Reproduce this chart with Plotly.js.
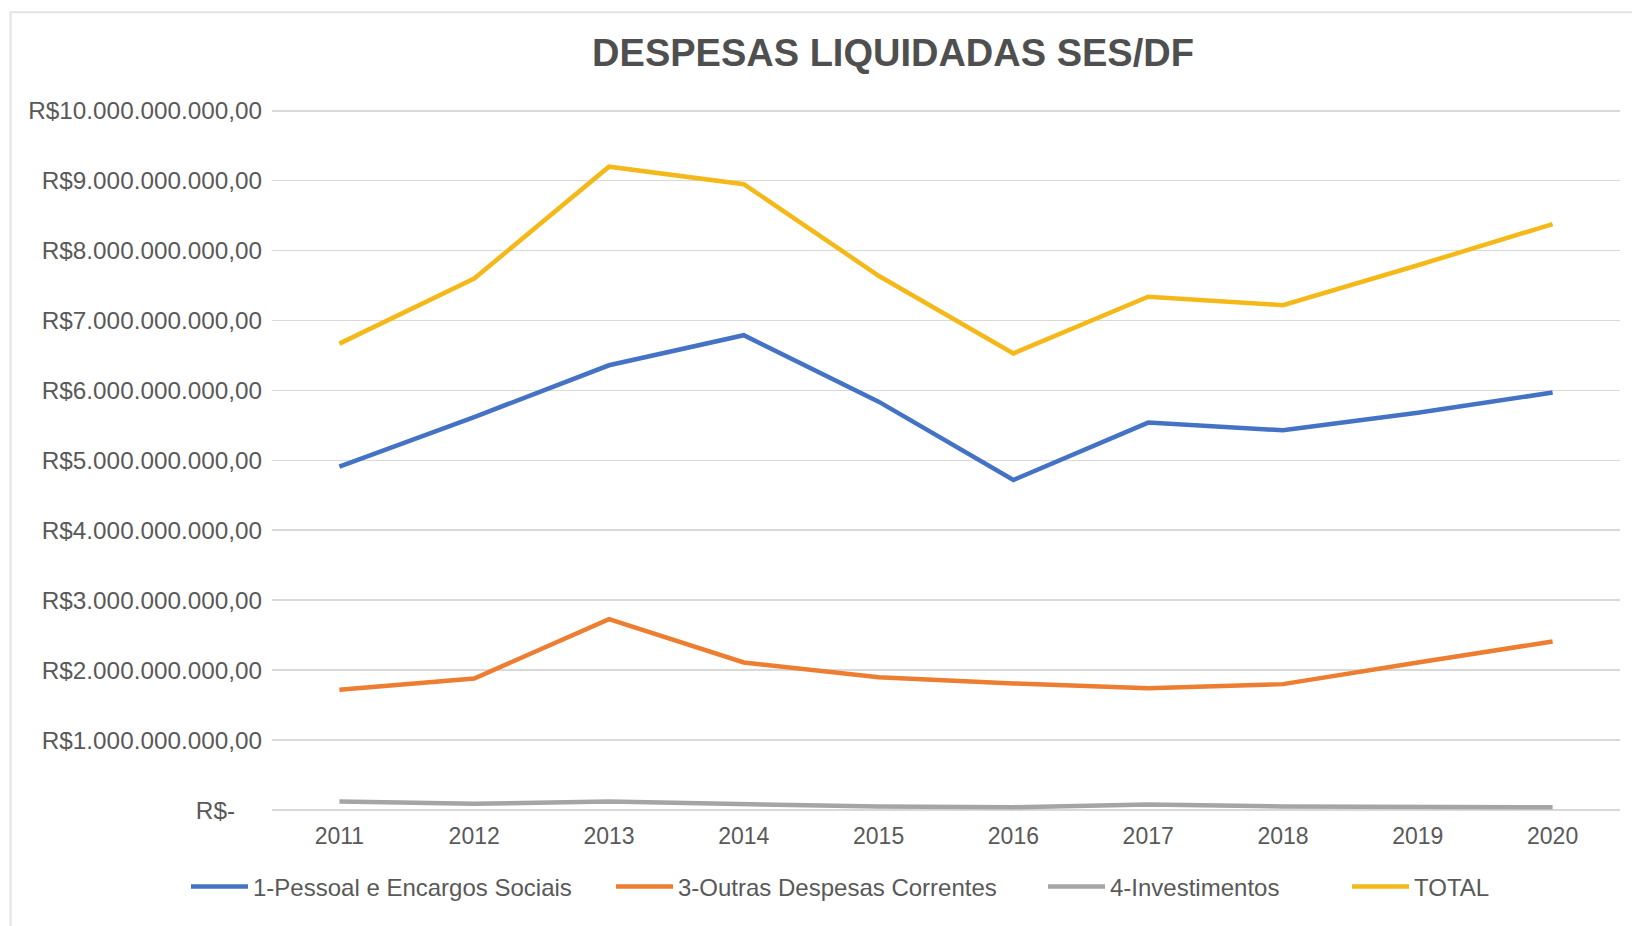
<!DOCTYPE html>
<html>
<head>
<meta charset="utf-8">
<script src="https://cdn.plot.ly/plotly-3.0.1.min.js"></script>
<style>
  html, body { margin: 0; padding: 0; background: #ffffff; }
  #chart { width: 1632px; height: 926px; }
</style>
</head>
<body>
<div id="chart"></div>
<script>
// Despesas liquidadas da SES/DF por grupo de natureza, 2011-2020 (R$)
const anos = ['2011', '2012', '2013', '2014', '2015', '2016', '2017', '2018', '2019', '2020'];

const pessoal       = [4.91e9, 5.62e9, 6.36e9, 6.79e9, 5.84e9, 4.72e9, 5.54e9, 5.43e9, 5.68e9, 5.97e9];
const outras        = [1.72e9, 1.88e9, 2.73e9, 2.11e9, 1.90e9, 1.81e9, 1.74e9, 1.80e9, 2.11e9, 2.41e9];
const investimentos = [0.12e9, 0.09e9, 0.12e9, 0.09e9, 0.05e9, 0.04e9, 0.08e9, 0.05e9, 0.04e9, 0.04e9];
const total         = [6.67e9, 7.60e9, 9.20e9, 8.95e9, 7.64e9, 6.53e9, 7.34e9, 7.22e9, 7.79e9, 8.38e9];

const nomesSeries = ['1-Pessoal e Encargos Sociais', '3-Outras Despesas Correntes', '4-Investimentos', 'TOTAL'];

const yTickVals = [0, 1e9, 2e9, 3e9, 4e9, 5e9, 6e9, 7e9, 8e9, 9e9, 1e10];
const yTickText = [
  'R$-\u00a0\u00a0\u00a0\u00a0',
  'R$1.000.000.000,00',
  'R$2.000.000.000,00',
  'R$3.000.000.000,00',
  'R$4.000.000.000,00',
  'R$5.000.000.000,00',
  'R$6.000.000.000,00',
  'R$7.000.000.000,00',
  'R$8.000.000.000,00',
  'R$9.000.000.000,00',
  'R$10.000.000.000,00'
];

const FONT = 'Liberation Sans, Arial, Helvetica, sans-serif';
const TEXT = '#595959';
const GRID = '#d9d9d9';

// layout geometry in pixels; the y range runs slightly past 1e10 so the
// top grid line is not dropped at the plot edge
const W = 1632, H = 926;
const Y_MAX = 1.0025e10;
const M = { l: 272, r: 12, t: 108.75, b: 116 };
const plotW = W - M.l - M.r;
const plotH = H - M.t - M.b;
const px2x = p => (p - M.l) / plotW;
const px2y = p => (H - M.b - p) / plotH;

const cores = ['#4472C4', '#ED7D31', '#A5A5A5', '#F4B918'];
const valores = [pessoal, outras, investimentos, total];
const legendas = ['legend', 'legend2', 'legend3', 'legend4'];
const legendaX = [186, 611, 1043, 1347];

const traces = valores.map((v, i) => ({
  type: 'scatter',
  mode: 'lines',
  x: anos,
  y: v,
  name: nomesSeries[i],
  legend: legendas[i],
  line: { color: cores[i], width: 4.5 },
  hoverinfo: 'x+y+name'
}));

const layout = {
  width: W,
  height: H,
  margin: M,
  paper_bgcolor: '#ffffff',
  plot_bgcolor: '#ffffff',
  font: { family: FONT, color: TEXT },
  title: {
    text: 'DESPESAS LIQUIDADAS SES/DF',
    font: { family: FONT, size: 38, color: '#4f4f4f', weight: 700 },
    xref: 'container', yref: 'container',
    x: 893 / W, xanchor: 'center',
    y: 1 - 53 / H, yanchor: 'middle'
  },
  xaxis: {
    type: 'category',
    range: [-0.5, anos.length - 0.5],
    showgrid: false,
    zeroline: false,
    showline: false,
    ticks: '',
    tickfont: { family: FONT, size: 23, color: TEXT },
    ticklabelstandoff: 10,
    fixedrange: true
  },
  yaxis: {
    range: [0, Y_MAX],
    tickmode: 'array',
    tickvals: yTickVals,
    ticktext: yTickText,
    showgrid: true,
    gridcolor: GRID,
    gridwidth: 1.6,
    zeroline: true,
    zerolinecolor: GRID,
    zerolinewidth: 1.6,
    showline: false,
    ticks: '',
    tickfont: { family: FONT, size: 24.3, color: TEXT },
    ticklabelstandoff: 9,
    fixedrange: true
  },
  shapes: [{
    type: 'rect', xref: 'paper', yref: 'paper',
    x0: px2x(10.5), x1: px2x(W + 20),
    y0: px2y(H + 20), y1: px2y(12),
    line: { color: '#e3e3e3', width: 2 },
    fillcolor: 'rgba(0,0,0,0)',
    layer: 'below'
  }],
  showlegend: true
};

legendas.forEach((k, i) => {
  layout[k] = {
    orientation: 'h',
    x: px2x(legendaX[i]),
    xanchor: 'left',
    y: px2y(887),
    yanchor: 'middle',
    bgcolor: 'rgba(0,0,0,0)',
    borderwidth: 0,
    itemwidth: 57,
    font: { family: FONT, size: 24, color: TEXT }
  };
});

Plotly.newPlot('chart', traces, layout, { displayModeBar: false, staticPlot: true });
</script>
</body>
</html>
